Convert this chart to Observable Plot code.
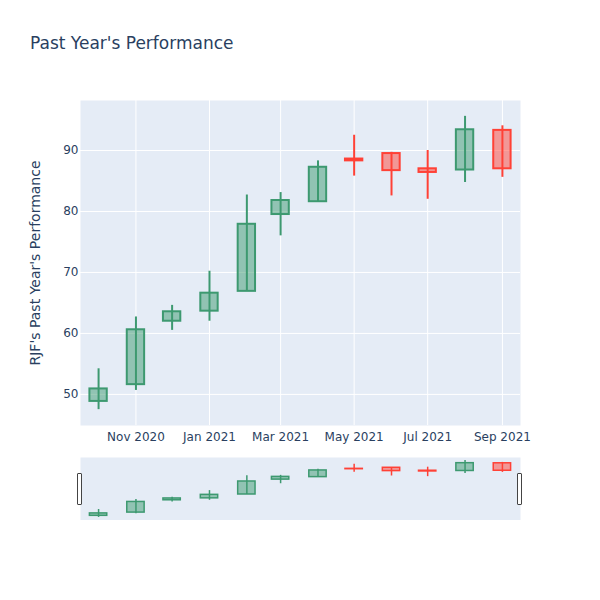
<!DOCTYPE html>
<html>
<head>
<meta charset="utf-8">
<script src="https://cdn.jsdelivr.net/npm/d3@7"></script>
<script src="https://cdn.jsdelivr.net/npm/@observablehq/plot@0.6"></script>
<style>
  html, body { margin: 0; padding: 0; background: #fff; }
  #wrap { position: relative; width: 600px; height: 600px; font-family: "DejaVu Sans", sans-serif; color: #2a3f5f; }
  #title { position: absolute; left: 30px; top: 33px; font-size: 17px; white-space: nowrap; }
  #main { position: absolute; left: 0; top: 0; }
  #slider { position: absolute; left: 0; top: 457px; }
  .handle { position: absolute; width: 3px; height: 30px; top: 473px; background: #fff; border: 1px solid #444; border-radius: 1px; }
</style>
</head>
<body>
<div id="wrap">
  <div id="main"></div>
  <div id="slider"></div>
  <div id="title">Past Year's Performance</div>
  <div class="handle" style="left:77px"></div>
  <div class="handle" style="left:517px"></div>
</div>
<script>
const dates = ["2020-10-01","2020-11-01","2020-12-01","2021-01-01","2021-02-01","2021-03-01","2021-04-01","2021-05-01","2021-06-01","2021-07-01","2021-08-01","2021-09-01"];
const open  = [48.85, 51.6, 62.0, 63.65, 66.9, 79.5, 81.6, 88.6, 89.5, 87.0, 86.8, 93.3];
const high  = [54.2, 62.7, 64.6, 70.2, 82.7, 83.1, 88.3, 92.5, 89.7, 90.0, 95.6, 94.05];
const low   = [47.5, 50.65, 60.5, 62.0, 66.9, 76.0, 81.6, 85.8, 82.55, 82.0, 84.75, 85.6];
const close = [50.9, 60.6, 63.55, 66.6, 77.9, 81.8, 87.25, 88.3, 86.7, 86.4, 93.4, 87.0];
const xTicks = ["2020-11-01","2021-01-01","2021-03-01","2021-05-01","2021-07-01","2021-09-01"];
const yTicks = [50, 60, 70, 80, 90];

const parse = d3.utcParse("%Y-%m-%d");
const data = dates.map((d, i) => ({date: parse(d), open: open[i], high: high[i], low: low[i], close: close[i]}));
const tickDates = xTicks.map(parse);
const halfW = 7.2 * 864e5;
const inc = "#3D9970", dec = "#FF4136";
const col = d => d.close >= d.open ? inc : dec;
const xDomain = [parse("2020-09-16"), parse("2021-09-16")];
const yDomain = [44.9, 98.2];

function candles(sw) {
  return [
    Plot.ruleX(data, {x: "date", y1: "low", y2: "high", stroke: col, strokeWidth: sw}),
    Plot.rect(data, {
      x1: d => new Date(+d.date - halfW), x2: d => new Date(+d.date + halfW),
      y1: "open", y2: "close", fill: col, fillOpacity: 0.5, stroke: col, strokeWidth: sw
    })
  ];
}

const main = Plot.plot({
  width: 600, height: 460,
  marginTop: 100, marginBottom: 35, marginLeft: 80, marginRight: 80,
  style: {fontFamily: "DejaVu Sans, sans-serif", fontSize: "12px", color: "#2a3f5f", background: "transparent"},
  x: {type: "utc", domain: xDomain},
  y: {domain: yDomain},
  marks: [
    Plot.frame({fill: "#E5ECF6", stroke: null}),
    Plot.gridX(tickDates, {stroke: "#fff", strokeOpacity: 1, strokeWidth: 1}),
    Plot.gridY(yTicks, {stroke: "#fff", strokeOpacity: 1, strokeWidth: 1}),
    Plot.axisX(tickDates, {tickSize: 0, tickPadding: 7, tickFormat: d3.utcFormat("%b %Y"), label: null, fill: "#2a3f5f"}),
    Plot.axisY(yTicks, {tickSize: 0, tickPadding: 2, label: null, fill: "#2a3f5f"}),
    Plot.text(["RJF's Past Year's Performance"], {frameAnchor: "left", textAnchor: "middle", dx: -45, rotate: -90, fontSize: 14, fill: "#2a3f5f"}),
    ...candles(2)
  ]
});
document.getElementById("main").appendChild(main);

const slider = Plot.plot({
  width: 600, height: 63,
  marginTop: 0, marginBottom: 0, marginLeft: 80, marginRight: 80,
  style: {background: "transparent"},
  x: {type: "utc", domain: xDomain, axis: null},
  y: {domain: yDomain, axis: null},
  marks: [
    Plot.frame({fill: "#E5ECF6", stroke: null}),
    ...candles(1.5)
  ]
});
document.getElementById("slider").appendChild(slider);
</script>
</body>
</html>
